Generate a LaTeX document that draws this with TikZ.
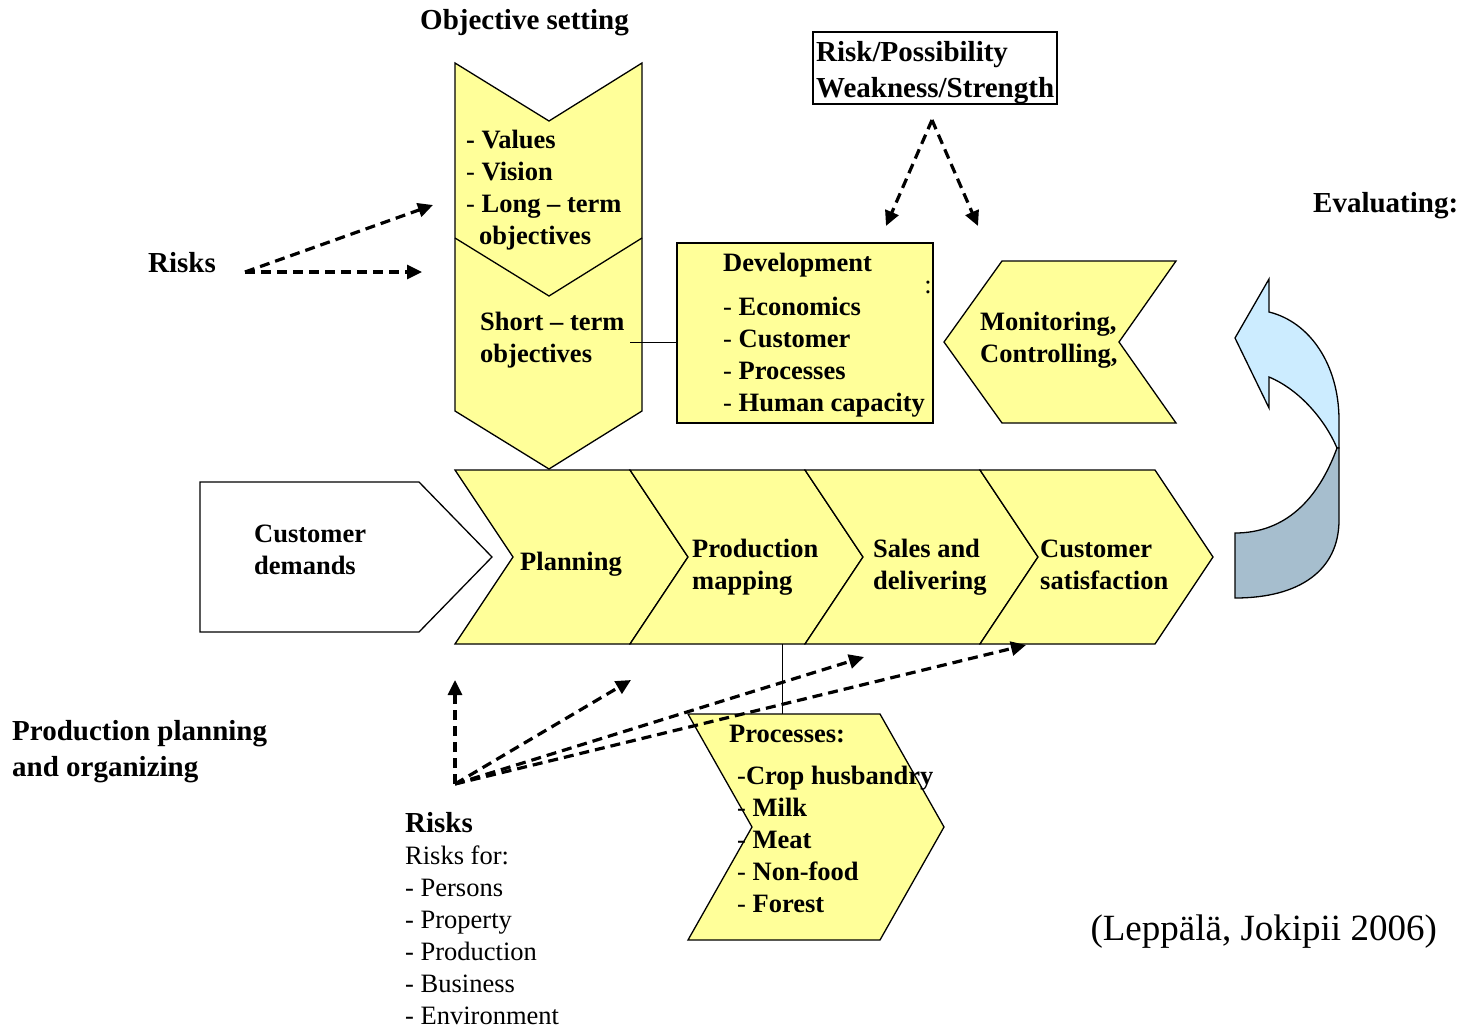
\documentclass[tikz,border=0pt]{standalone}
\usepackage{fontspec}
\setmainfont{Liberation Serif}
\usetikzlibrary{arrows.meta}
\definecolor{yel}{RGB}{255,255,153}
\definecolor{lblue}{RGB}{204,236,255}
\definecolor{gblue}{RGB}{166,190,206}
\newcommand\fA{\fontsize{26.5}{32}\selectfont}
\newcommand\fB{\fontsize{29}{36}\selectfont}
\newcommand\md[1]{{\mdseries #1}}
\begin{document}
\begin{tikzpicture}[x=1pt,y=-1pt,
  shp/.style={draw=black, fill=yel, line width=1.3pt, line join=miter},
  wshp/.style={draw=black, fill=white, line width=1.3pt, line join=miter},
  lbl/.style={inner sep=0pt, anchor=west, align=left, font=\fA\bfseries},
  big/.style={inner sep=0pt, anchor=west, align=left, font=\fB\bfseries},
  reg/.style={inner sep=0pt, anchor=west, align=left, font=\fA},
  darr/.style={line width=3.2pt, dash pattern=on 10pt off 6pt, -{Triangle[length=15pt,width=14pt]}},
  conn/.style={line width=1pt}]
\path[use as bounding box] (0,0) rectangle (1462,1028);

% objective chevron
\draw[shp] (455,63) -- (549,121) -- (642,63) -- (642,411) -- (549,469) -- (455,411) -- cycle;
\draw[line width=1.3pt] (455,238) -- (549,296) -- (642,238);

% development box
\node[shp, minimum width=256pt, minimum height=180pt, inner sep=0pt] (dev) at (805,333) {};

% monitoring chevron
\draw[shp] (1002,261) -- (1176,261) -- (1119,342) -- (1176,423) -- (1002,423) -- (944,342) -- cycle;

% customer demands
\draw[wshp] (200,482) -- (419,482) -- (492,557) -- (419,632) -- (200,632) -- cycle;

% main row
\foreach \x in {455,630,805,980}{
  \draw[shp] (\x,470) -- ({\x+175},470) -- ({\x+233},557) -- ({\x+175},644) -- (\x,644) -- ({\x+58},557) -- cycle;
}

% processes chevron
\draw[shp] (688,714) -- (880,714) -- (944,827) -- (880,940) -- (688,940) -- (752,827) -- cycle;

% curved arrow
\draw[fill=lblue, line width=1.3pt, line join=miter]
  (1235,338) -- (1269,279) -- (1269,312)
  .. controls (1310,322) and (1339,365) .. (1339,420) -- (1339,448) -- (1337,448)
  .. controls (1325,420) and (1300,390) .. (1269,377) -- (1269,408) -- cycle;
\draw[fill=gblue, line width=1.3pt, line join=miter]
  (1337,448) .. controls (1318,500) and (1285,533) .. (1235,533) -- (1235,598)
  .. controls (1300,598) and (1339,570) .. (1339,520) -- (1339,448) -- cycle;

% risk box
\node[draw, line width=1.3pt, minimum width=244pt, minimum height=72pt, inner sep=0pt] (rp) at (935,68) {};
\node[big] (rpt) at (816,73) {Risk/Possibility\\Weakness/Strength};

% texts
\node[big] (objset) at (420,23) {Objective setting};
\node[lbl] (objtxt) at (466,190) {- Values\\\md{-} Vision\\\md{-} Long – term\\\hspace{13pt}objectives};
\node[lbl] (sto) at (480,340) {Short – term\\objectives};
\node[lbl] (devt) at (723,265) {Development};
\node[lbl] (devl) at (723,357) {\md{-} Economics\\\md{-} Customer\\\md{-} Processes\\\md{-} Human capacity};
\node[inner sep=0pt, font=\fA] (colon) at (928,287) {:};
\node[lbl] (mon) at (980,340) {Monitoring,\\Controlling,};
\node[big] (eval) at (1313,206) {Evaluating:};
\node[big] (risks1) at (148,263) {Risks};

\node[lbl] (cd) at (254,550) {Customer\\demands};
\node[lbl] (plan) at (520,564) {Planning};
\node[lbl] (pm) at (692,567) {Production\\mapping};
\node[lbl] (sd) at (873,567) {Sales and\\delivering};
\node[lbl] (cs) at (1040,565) {Customer\\satisfaction};

\node[big] (ppo) at (12,752) {Production planning\\and organizing};
\node[big] (risks2) at (405,823) {Risks};
\node[reg] (rlist) at (405,935) {Risks for:\\- Persons\\- Property\\- Production\\- Business\\- Environment};

\node[lbl] (proct) at (729,734) {Processes:};
\node[lbl] (procl) at (737,839) {\md{-}Crop husbandry\\\md{-} Milk\\\md{-} Meat\\\md{-} Non-food\\\md{-} Forest};

\node[inner sep=0pt, anchor=east, font=\fontsize{37}{44}\selectfont] (cite) at (1437,932) {(Leppälä, Jokipii 2006)};

% solid connectors
\coordinate (stl) at (630,342);
\draw[conn] (stl) -- (stl -| dev.west);
\coordinate (rowb) at (782,644);
\coordinate (procs) at (782,714);
\draw[conn] (rowb) -- (procs);

% dashed arrows
\coordinate (r1) at (245,272);
\coordinate (r1a) at (433,205);
\coordinate (r1b) at (422,272);
\draw[darr] (r1) -- (r1a);
\draw[darr] (r1) -- (r1b);

\coordinate (r2) at (455,784);
\coordinate (r2a) at (455,680);
\coordinate (r2b) at (631,680);
\coordinate (r2c) at (864,657);
\coordinate (r2d) at (1026,645);
\draw[darr] (r2) -- (r2a);
\draw[darr] (r2) -- (r2b);
\draw[darr] (r2) -- (r2c);
\draw[darr] (r2) -- (r2d);

\coordinate (rpo) at (932,120);
\coordinate (rpa) at (886,226);
\coordinate (rpb) at (978,226);
\draw[darr] (rpo) -- (rpa);
\draw[darr] (rpo) -- (rpb);
\end{tikzpicture}
\end{document}
